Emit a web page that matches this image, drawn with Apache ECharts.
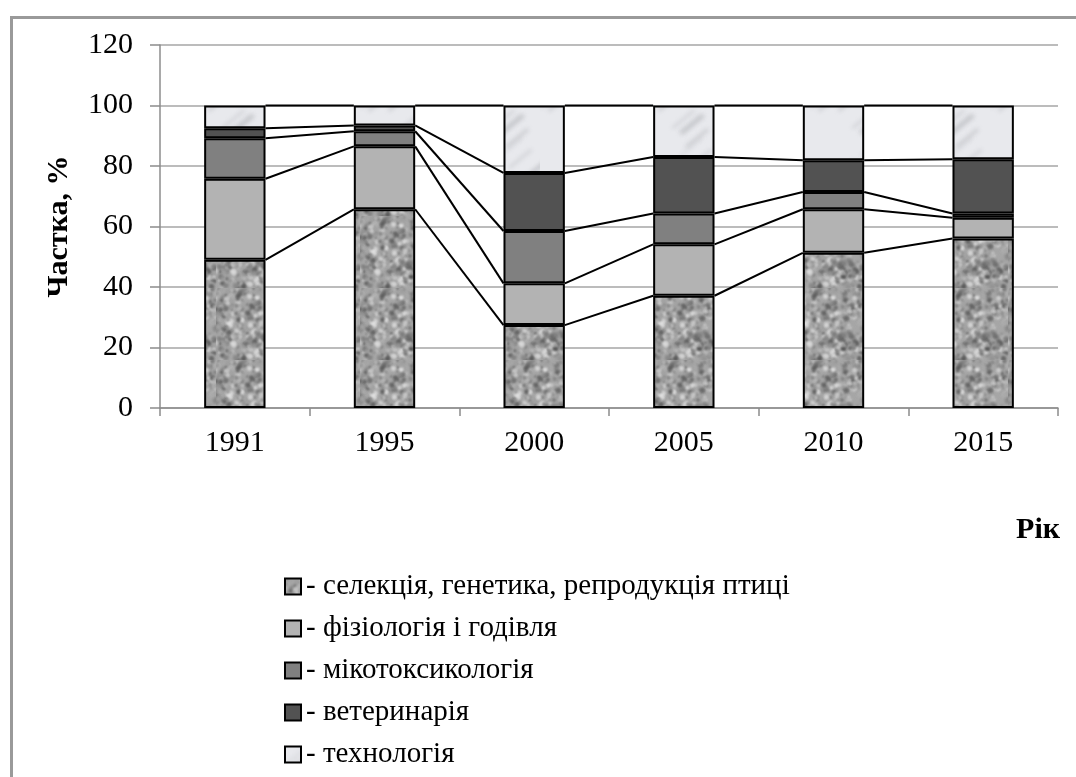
<!DOCTYPE html>
<html>
<head>
<meta charset="utf-8">
<script src="https://cdn.jsdelivr.net/npm/echarts@6/dist/echarts.min.js"></script>
<style>
html, body { margin: 0; padding: 0; background: #fff; }
#chart { width: 1076px; height: 777px; }
</style>
</head>
<body>
<div id="chart"></div>
<script>
// values, % share per year
const years = ['1991', '1995', '2000', '2005', '2010', '2015'];
const selection = [49.0, 65.7, 27.4, 37.1, 51.3, 56.0];
const physiology = [26.8, 20.8, 13.8, 17.0, 14.4, 6.9];
const mycotox = [13.4, 5.0, 17.3, 10.2, 5.7, 1.4];
const veterinary = [3.3, 1.9, 19.2, 18.7, 10.5, 17.9];
const technology = [7.5, 6.6, 22.3, 17.0, 18.1, 17.8];
const seriesNames = [
  'селекція, генетика, репродукція птиці',
  'фізіологія і годівля',
  'мікотоксикологія',
  'ветеринарія',
  'технологія'
];
const yTicks = [0, 20, 40, 60, 80, 100, 120];

const FONT = 'Liberation Serif';

// deterministic texture noise (styling only)
function prng(seed) {
  return function () {
    seed = (seed * 16807) % 2147483647;
    return (seed - 1) / 2147483646;
  };
}

function graniteTexture() {
  const c = document.createElement('canvas');
  c.width = 72; c.height = 72;
  const g = c.getContext('2d');
  g.fillStyle = '#a6a6a6';
  g.fillRect(0, 0, 72, 72);
  const r = prng(12345);
  g.filter = 'blur(0.8px)';
  for (let i = 0; i < 520; i++) {
    const v = Math.floor(70 + r() * 170);
    g.fillStyle = 'rgba(' + v + ',' + v + ',' + v + ',0.7)';
    g.beginPath();
    g.arc(r() * 72, r() * 72, 0.8 + r() * 2.2, 0, Math.PI * 2);
    g.fill();
  }
  return c;
}

function marbleTexture() {
  const c = document.createElement('canvas');
  c.width = 90; c.height = 90;
  const g = c.getContext('2d');
  g.fillStyle = '#e8e9ed';
  g.fillRect(0, 0, 90, 90);
  const r = prng(777);
  g.filter = 'blur(2px)';
  for (let i = 0; i < 14; i++) {
    const x = r() * 90, y = r() * 90;
    g.strokeStyle = 'rgba(170,172,178,0.45)';
    g.lineWidth = 1 + r() * 2.5;
    g.beginPath();
    g.moveTo(x, y);
    g.quadraticCurveTo(x + 10, y - 8, x + 22, y - 18);
    g.stroke();
  }
  return c;
}

const fills = [
  { image: graniteTexture(), repeat: 'repeat' },
  '#b3b3b3',
  '#808080',
  '#525252',
  { image: marbleTexture(), repeat: 'repeat' }
];

const parts = [selection, physiology, mycotox, veterinary, technology];
// cumulative tops of each segment, for the series lines between bars
const cum = parts.map((_, s) =>
  years.map((__, k) => parts.slice(0, s + 1).reduce((a, p) => a + p[k], 0))
);

const BAR_RATIO = 0.41;

const chart = echarts.init(document.getElementById('chart'));

const barSeries = parts.map((vals, s) => ({
  name: seriesNames[s],
  type: 'bar',
  stack: 'total',
  barWidth: (BAR_RATIO * 100) + '%',
  data: vals,
  z: 3,
  itemStyle: {
    color: fills[s],
    borderColor: '#000',
    borderWidth: 2
  }
}));

const option = {
  animation: false,
  backgroundColor: '#fff',
  grid: { left: 160, right: 18, top: 45, bottom: 369 },
  legend: {
    orient: 'vertical',
    left: 279,
    top: 567,
    height: 210,
    itemWidth: 16,
    itemHeight: 16,
    itemGap: 13,
    icon: 'rect',
    data: seriesNames,
    formatter: name => '- ' + name,
    textStyle: { fontFamily: FONT, fontSize: 29, color: '#000' }
  },
  xAxis: {
    type: 'category',
    data: years,
    axisLine: { lineStyle: { color: '#8c8c8c', width: 1.5 } },
    axisTick: { show: true, length: 8, lineStyle: { color: '#8c8c8c', width: 1.5 } },
    axisLabel: { fontFamily: FONT, fontSize: 30, color: '#000', margin: 20 }
  },
  yAxis: {
    type: 'value',
    min: yTicks[0],
    max: yTicks[yTicks.length - 1],
    interval: 20,
    name: 'Частка, %',
    nameLocation: 'middle',
    nameRotate: 90,
    nameGap: 86,
    nameTextStyle: { fontFamily: FONT, fontSize: 30, fontWeight: 'bold', color: '#000' },
    axisLine: { show: true, lineStyle: { color: '#8c8c8c', width: 1.5 } },
    axisTick: { show: true, length: 10, lineStyle: { color: '#8c8c8c', width: 1.5 } },
    splitLine: { lineStyle: { color: '#a6a6a6', width: 1.5 } },
    axisLabel: { fontFamily: FONT, fontSize: 30, color: '#000', margin: 27 }
  },
  graphic: [
    {
      type: 'rect',
      left: 9, top: 15,
      shape: { width: 1200, height: 900 },
      style: { fill: 'none', stroke: '#9a9a9a', lineWidth: 3 },
      z: -10
    },
    {
      type: 'text',
      right: 16, top: 515,
      style: { text: 'Рік', fontFamily: FONT, fontSize: 30, fontWeight: 'bold', fill: '#000' }
    }
  ],
  series: barSeries.concat([{
    type: 'custom',
    silent: true,
    z: 2,
    data: years.map((_, k) => [k, 0]),
    encode: { x: 0, y: 1 },
    renderItem: function (params, api) {
      const k = params.dataIndex;
      if (k >= years.length - 1) return { type: 'group', children: [] };
      const bw = api.size([1, 0])[0] * BAR_RATIO;
      const children = [];
      for (let s = 0; s < parts.length; s++) {
        const p0 = api.coord([k, cum[s][k]]);
        const p1 = api.coord([k + 1, cum[s][k + 1]]);
        children.push({
          type: 'line',
          shape: { x1: p0[0] + bw / 2, y1: p0[1], x2: p1[0] - bw / 2, y2: p1[1] },
          style: { stroke: '#000', lineWidth: 2 }
        });
      }
      return { type: 'group', children: children };
    }
  }])
};

chart.setOption(option);
</script>
</body>
</html>
